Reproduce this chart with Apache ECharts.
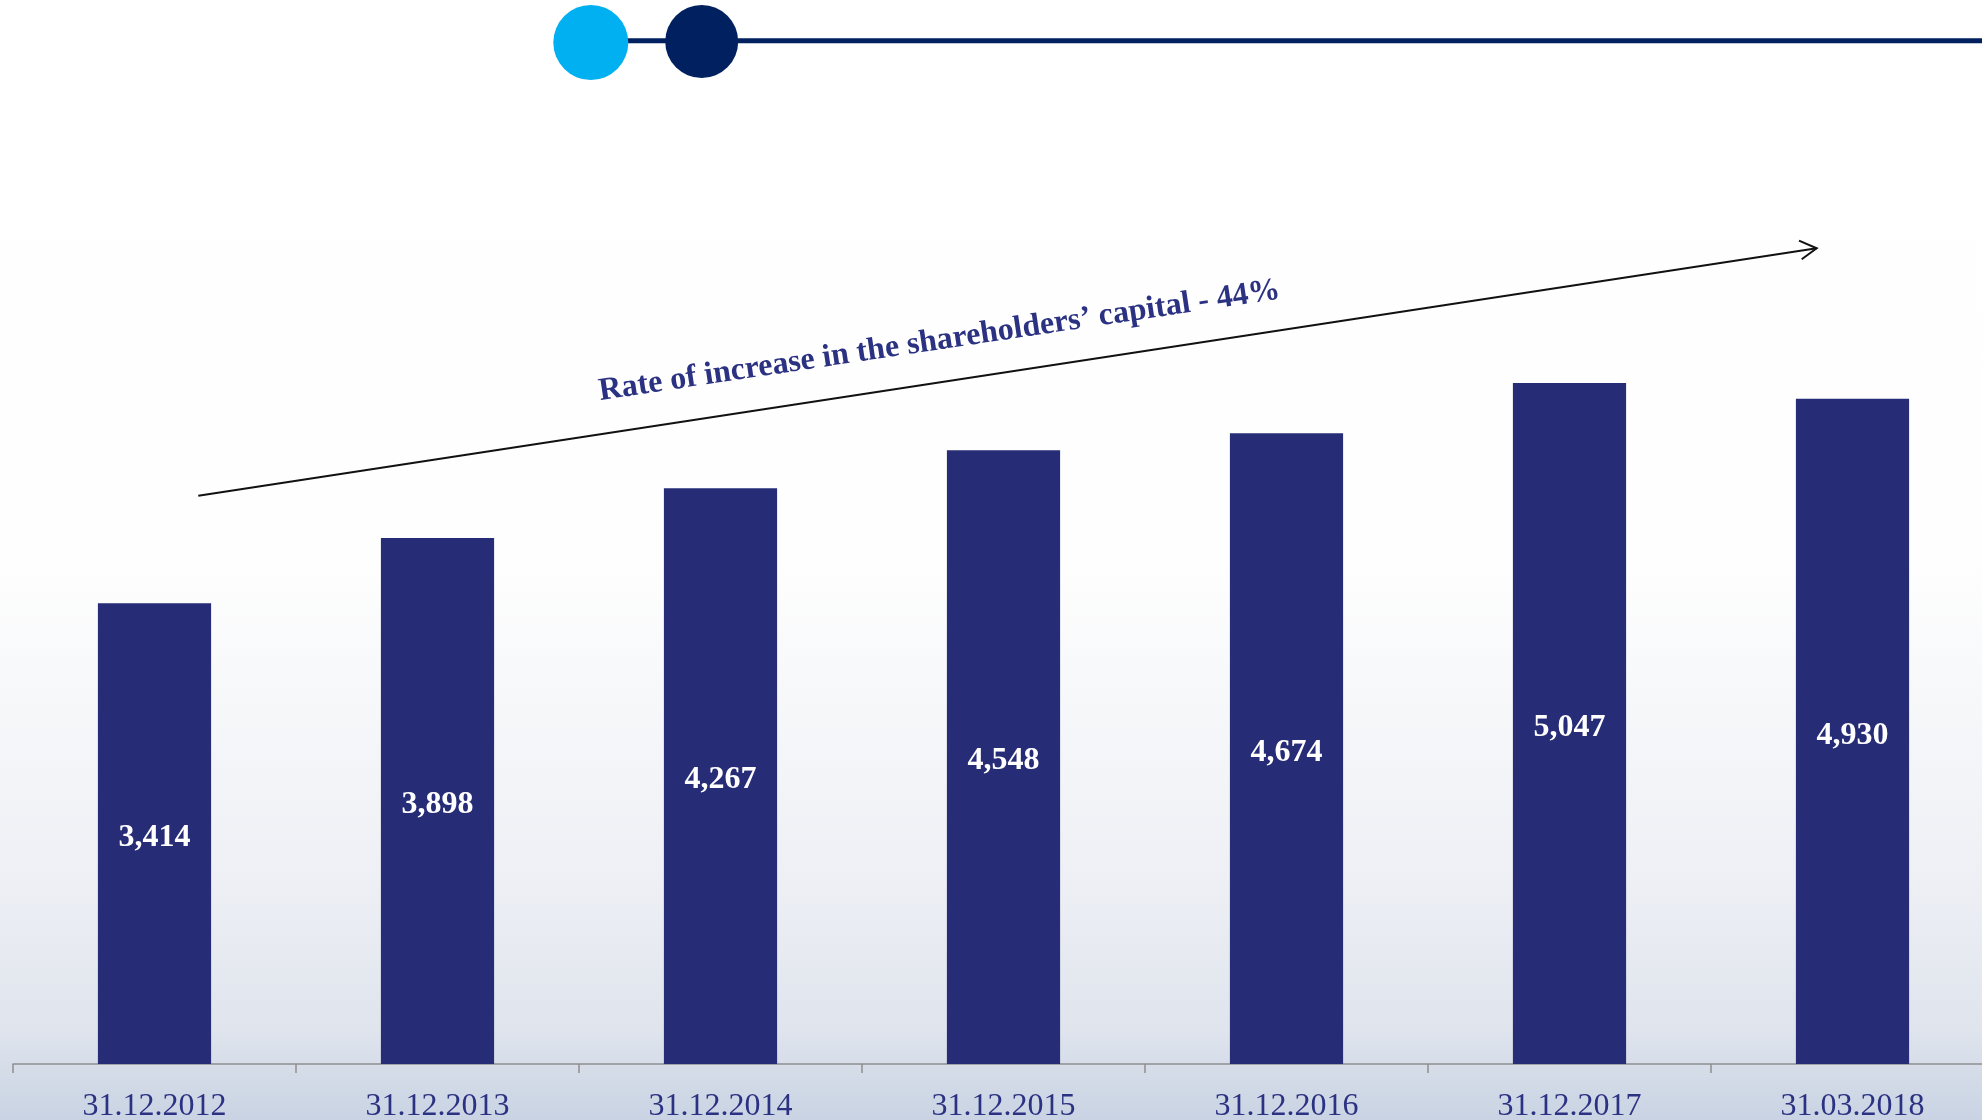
<!DOCTYPE html>
<html>
<head>
<meta charset="utf-8">
<title>Shareholders' capital</title>
<script src="https://cdn.jsdelivr.net/npm/echarts@6/dist/echarts.min.js"></script>
<style>
  html, body { margin: 0; padding: 0; width: 1982px; height: 1120px; overflow: hidden; }
  #chart { width: 1982px; height: 1120px; }
</style>
</head>
<body>
<div id="chart"></div>
<script>
// Reporting dates on the category axis
const categories = ['31.12.2012', '31.12.2013', '31.12.2014', '31.12.2015', '31.12.2016', '31.12.2017', '31.03.2018'];
// Shareholders' capital at each date
const capital = [3414, 3898, 4267, 4548, 4674, 5047, 4930];
// Annotation text above the bars
const growthNote = 'Rate of increase in the shareholders\u2019 capital - 44%';

const SERIF = "'Liberation Serif', 'Times New Roman', serif";
const NAVY_TEXT = '#2B3282';
const BAR = '#272C77';

const chart = echarts.init(document.getElementById('chart'), null, { renderer: 'canvas' });

const rot = 8.5 * Math.PI / 180;

chart.setOption({
  backgroundColor: {
    type: 'linear', x: 0, y: 0, x2: 0, y2: 1,
    colorStops: [
      { offset: 0, color: '#ffffff' },
      { offset: 0.5, color: '#fefefe' },
      { offset: 0.78, color: '#eef0f5' },
      { offset: 0.92, color: '#dfe4ed' },
      { offset: 1, color: '#c9d3e3' }
    ]
  },
  animation: false,
  // the last category runs slightly past the right edge of the canvas
  grid: { left: 13, top: 254.4, width: 1981, height: 809.6, outerBoundsMode: 'none', containLabel: false },
  xAxis: {
    type: 'category',
    data: categories,
    boundaryGap: true,
    axisLine: { show: true, lineStyle: { color: '#8f8f8f', width: 1.5 } },
    axisTick: { show: true, length: 9, lineStyle: { color: '#8f8f8f', width: 1.5 } },
    axisLabel: {
      color: NAVY_TEXT,
      fontFamily: SERIF,
      fontSize: 32,
      lineHeight: 32,
      margin: 27,
      interval: 0
    }
  },
  yAxis: {
    type: 'value',
    min: 0,
    max: 6000,
    show: false,
    splitLine: { show: false }
  },
  series: [{
    type: 'bar',
    data: capital,
    barWidth: '40%',
    itemStyle: { color: BAR },
    label: {
      show: true,
      position: 'inside',
      offset: [0, 4],
      color: '#ffffff',
      fontFamily: SERIF,
      fontWeight: 'bold',
      fontSize: 32,
      formatter: p => p.value.toLocaleString('en-US')
    }
  }],
  graphic: [
    // header rule with two circles
    { type: 'line', shape: { x1: 590, y1: 40.8, x2: 1982, y2: 40.8 }, style: { stroke: '#002060', lineWidth: 5 }, silent: true },
    { type: 'circle', shape: { cx: 590.8, cy: 42.5, r: 37.5 }, style: { fill: '#00B0F0' }, silent: true },
    { type: 'circle', shape: { cx: 701.7, cy: 41.5, r: 36.5 }, style: { fill: '#002060' }, silent: true },
    // growth arrow
    { type: 'line', shape: { x1: 198.3, y1: 495.7, x2: 1816.7, y2: 248.3 }, style: { stroke: '#111111', lineWidth: 2 }, silent: true },
    { type: 'polyline', shape: { points: [[1799, 240.7], [1816.7, 248.3], [1801.7, 259.3]] }, style: { stroke: '#111111', lineWidth: 2, fill: null }, silent: true },
    // growth note
    {
      type: 'text',
      x: 939.5, y: 341,
      rotation: rot,
      style: {
        text: growthNote,
        fill: NAVY_TEXT,
        font: 'bold 32px ' + SERIF,
        align: 'center',
        verticalAlign: 'middle'
      },
      silent: true
    }
  ]
});
</script>
</body>
</html>
